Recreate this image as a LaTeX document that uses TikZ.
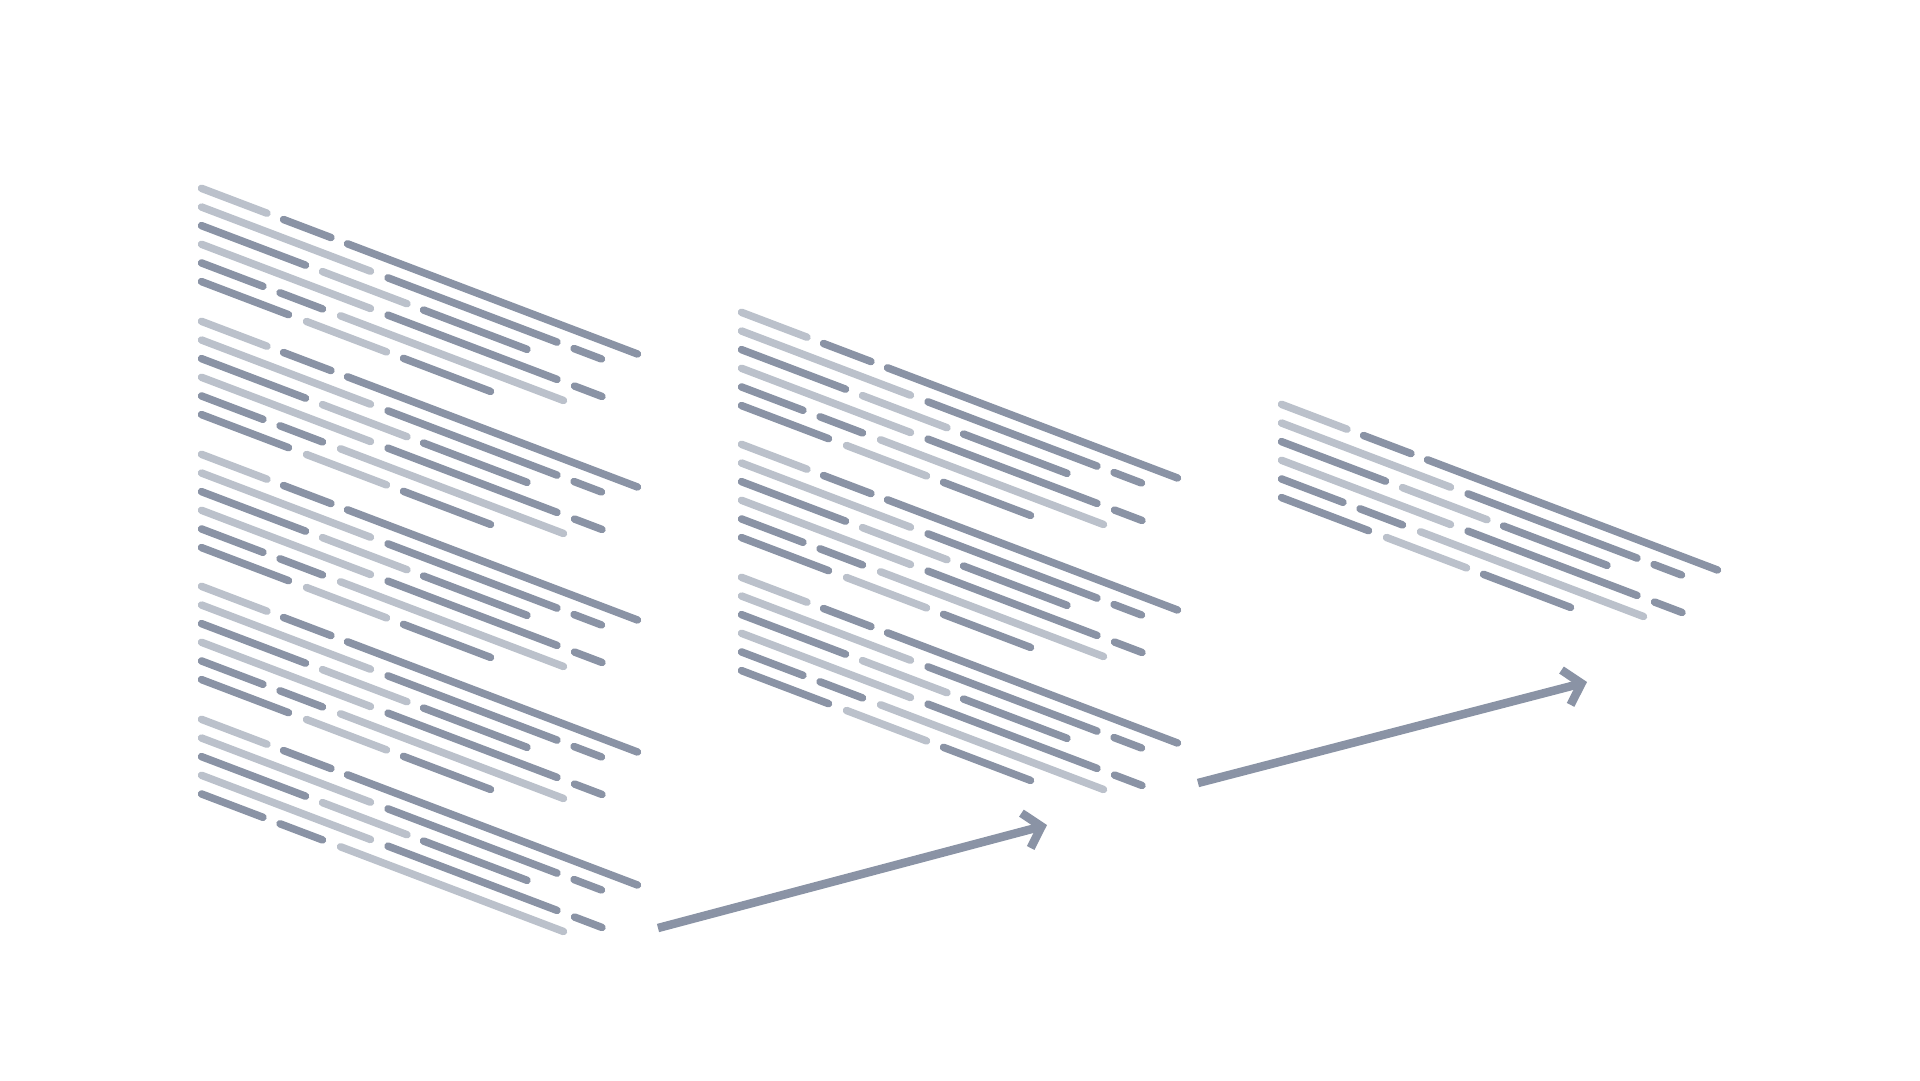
\documentclass[tikz,border=0pt]{standalone}
\usepackage{xcolor}
\usetikzlibrary{arrows.meta}
\definecolor{codedark}{HTML}{8A93A5}
\definecolor{codelight}{HTML}{BBC1CB}

\begin{document}
\begin{tikzpicture}[x=1pt,y=-1pt,line cap=round,
  dk/.style={codedark,line width=7.5pt},
  lt/.style={codelight,line width=7.5pt},
  flow/.style={codedark,line width=8.5pt,line cap=butt,-{Straight Barb[length=16pt,width=36pt]}}]
\useasboundingbox (0,0) rectangle (1920,1080);
% blocks of code lines: left stack, middle stack, right block
\foreach \bx/\by/\rows in {198/187/6,198/320/6,198/453/6,198/585/6,198/718/5,
                           738/311/6,738/443/6,738/576/6,1278/403/6} {
\begin{scope}[shift={(\bx,\by)},yslant=-0.38]
\draw[lt] (3.5,0) -- (69,0);
\draw[dk] (85.5,0) -- (133,0);
\draw[dk] (149.5,0) -- (439.5,0);
\draw[lt] (3.5,18.65) -- (172.5,18.65);
\draw[dk] (190,18.65) -- (359,18.65);
\draw[dk] (376,18.65) -- (403.5,18.65);
\draw[dk] (3.5,37.3) -- (107.5,37.3);
\draw[lt] (124.5,37.3) -- (209,37.3);
\draw[dk] (225.5,37.3) -- (329,37.3);
\draw[lt] (3.5,55.95) -- (172.5,55.95);
\draw[dk] (190,55.95) -- (359,55.95);
\draw[dk] (376.5,55.95) -- (404,55.95);
\draw[dk] (3.5,74.6) -- (65,74.6);
\draw[dk] (82,74.6) -- (124.5,74.6);
\draw[lt] (142.5,74.6) -- (365.5,74.6);
\ifnum\rows>5
\draw[dk] (3.5,93.25) -- (90.5,93.25);
\draw[lt] (108.5,93.25) -- (188.5,93.25);
\draw[dk] (205.5,93.25) -- (292.5,93.25);
\fi
\end{scope}
}
%
\coordinate (leftout) at (658,928);
\coordinate (midin) at (1047,825);
\coordinate (midout) at (1198,783);
\coordinate (rightin) at (1587,682);
\draw[flow] (leftout) -- (midin);
\draw[flow] (midout) -- (rightin);
\end{tikzpicture}
\end{document}
